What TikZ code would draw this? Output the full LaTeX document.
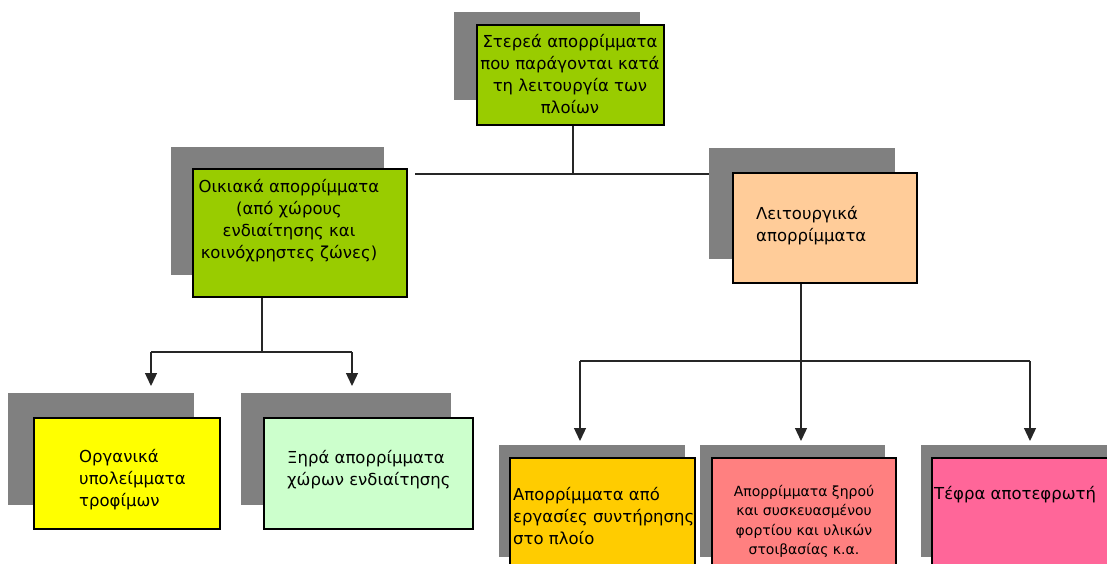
\documentclass[tikz,border=0pt]{standalone}
\usepackage{fontspec}
\setmainfont{DejaVu Sans}
\usetikzlibrary{arrows.meta}
\definecolor{shadowgray}{HTML}{808080}
\definecolor{limegreen}{HTML}{99CC00}
\definecolor{peach}{HTML}{FFCC99}
\definecolor{brightyellow}{HTML}{FFFF00}
\definecolor{palegreen}{HTML}{CCFFCC}
\definecolor{amber}{HTML}{FFCC00}
\definecolor{salmon}{HTML}{FF8080}
\definecolor{hotpink}{HTML}{FF6699}
\pgfdeclarelayer{lines}
\pgfdeclarelayer{shadows}
\pgfsetlayers{lines,shadows,main}
\begin{document}
\begin{tikzpicture}[x=1pt,y=-1pt,
  box/.style={draw=black, line width=1.6pt, rectangle, inner sep=0pt, anchor=north west},
  shade/.style={fill=shadowgray},
  conn/.style={draw=black!85, line width=1.3pt},
  arr/.style={conn, -{Triangle[width=12pt,length=13pt]}},
  txt/.style={font=\fontsize{16.5}{22}\selectfont, inner sep=0pt},
  smalltxt/.style={font=\fontsize{14}{19.5}\selectfont, inner sep=0pt},
]
\useasboundingbox (0,0) rectangle (1107,563);

% boxes
\node[box, fill=limegreen, minimum width=187pt, minimum height=100pt] (top) at (476,24) {};
\node[box, fill=limegreen, minimum width=214pt, minimum height=128pt] (home) at (192,168) {};
\node[box, fill=peach, minimum width=184pt, minimum height=110pt] (oper) at (732,172) {};
\node[box, fill=brightyellow, minimum width=186pt, minimum height=111pt] (food) at (33,417) {};
\node[box, fill=palegreen, minimum width=209pt, minimum height=111pt] (dry) at (263,417) {};
\node[box, fill=amber, minimum width=185pt, minimum height=130pt] (maint) at (509,457) {};
\node[box, fill=salmon, minimum width=184pt, minimum height=130pt] (cargo) at (711,457) {};
\node[box, fill=hotpink, minimum width=200pt, minimum height=130pt] (ash) at (931,457) {};

% texts
\node[txt, anchor=north, align=center] (ttop) at (570,34)
  {Στερεά απορρίμματα\\που παράγονται κατά\\τη λειτουργία των\\πλοίων};
\node[txt, anchor=north, align=center] (thome) at (289,179)
  {Οικιακά απορρίμματα\\(από χώρους\\ενδιαίτησης και\\κοινόχρηστες ζώνες)};
\node[txt, anchor=north west, align=left] (toper) at (756,206)
  {Λειτουργικά\\απορρίμματα};
\node[txt, anchor=north west, align=left] (tfood) at (79,449)
  {Οργανικά\\υπολείμματα\\τροφίμων};
\node[txt, anchor=north west, align=left] (tdry) at (287,450)
  {Ξηρά απορρίμματα\\χώρων ενδιαίτησης};
\node[txt, anchor=north west, align=left] (tmaint) at (513,487)
  {Απορρίμματα από\\εργασίες συντήρησης\\στο πλοίο};
\node[smalltxt, anchor=north, align=center] (tcargo) at (804,485)
  {Απορρίμματα ξηρού\\και συσκευασμένου\\φορτίου και υλικών\\στοιβασίας κ.α.};
\node[txt, anchor=north west, align=left] (tash) at (934,486)
  {Τέφρα αποτεφρωτή};

% shadows
\begin{pgfonlayer}{shadows}
\fill[shade] (454,12) rectangle (640,100);
\fill[shade] (171,147) rectangle (384,275);
\fill[shade] (709,148) rectangle (895,259);
\fill[shade] (8,393) rectangle (194,505);
\fill[shade] (241,393) rectangle (451,505);
\fill[shade] (499,445) rectangle (685,557);
\fill[shade] (700,445) rectangle (885,557);
\fill[shade] (921,445) rectangle (1120,557);
\end{pgfonlayer}

% connectors
\coordinate (j0) at (573,174);
\coordinate (hl) at (415,174);
\coordinate (j1) at (262,352);
\coordinate (l1) at (151,352);
\coordinate (r1) at (352,352);
\coordinate (j2) at (801,361);
\coordinate (l2) at (580,361);
\coordinate (r2) at (1030,361);
\begin{pgfonlayer}{lines}
\draw[conn] (top.south -| j0) -- (j0);
\draw[conn] (hl) -- (oper.west |- j0);
\draw[conn] (home.south -| j1) -- (j1);
\draw[conn] (l1) -- (r1);
\draw[arr] (l1) -- (l1 |- 0,386);
\draw[arr] (r1) -- (r1 |- 0,386);
\draw[conn] (l2) -- (r2);
\draw[arr] (oper.south -| j2) -- (j2 |- 0,441);
\draw[arr] (l2) -- (l2 |- 0,441);
\draw[arr] (r2) -- (r2 |- 0,441);
\end{pgfonlayer}
\end{tikzpicture}
\end{document}
